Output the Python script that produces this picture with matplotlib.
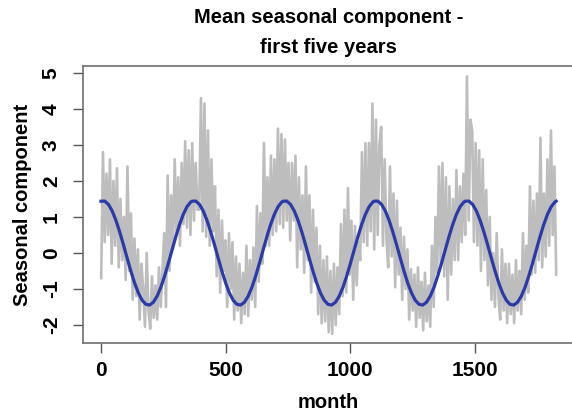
import numpy as np
import matplotlib.pyplot as plt

# ── data ─────────────────────────────────────────────────────
# observed seasonal component (grey), roughly one value per week
observed = [
    -0.7, 2.8, 0.3, 2.2,     0.5, 2.6, -0.3, 2.0,     0.2, 2.35, -0.4, 1.5,
    -0.2, 1.0, -0.75, 2.4,   -0.5, 1.1, -1.3, 0.4,    -1.2, 0.1, -1.85, -0.3,
    -1.0, -2.05, 0.0, -1.6,  -2.1, -0.65, -1.8, -0.9, -1.85, -0.4, -1.5, -0.5,
    0.55, -1.5, 2.15, -0.5,  1.6, 0.1, 2.6, 0.5,      2.1, 0.2, 2.5, 0.8,
    3.1, 0.7, 2.85, 0.5,     3.05, 0.9, 2.5, 1.2,     1.2, 4.3, 0.6, 4.15,
    0.45, 3.4, 0.2, 2.6,     0.6, 1.85, -0.65, 1.2,   -1.1, 0.9, -0.5, 0.35,
    -1.5, 0.55, -1.0, 0.3,   -1.85, -0.1, -1.6, -0.3, -1.95, -0.55, -1.7, 0.2,
    -1.75, -0.2, -1.3, 0.15, -1.5, 1.3, -0.8, 1.1,    -0.3, 3.05, 0.2, 2.1,
    0.2, 2.7, 0.5, 2.6,      0.6, 3.45, 0.8, 3.3,     0.7, 3.15, 0.9, 2.5,
    0.35, 2.5, 0.9, 2.7,     -0.4, 2.1, 0.1, 1.6,     -0.55, 2.4, -0.2, 1.6,
    -1.1, 1.2, -0.8, 0.7,    -1.7, 0.2, -1.95, -0.2,  -1.9, -0.1, -2.2, -0.5,
    -2.25, -0.3, -2.0, -0.4, -1.7, 0.8, -1.2, 1.2,    -1.1, 1.8, -0.6, 0.9,
    -1.3, 0.75, -0.9, 0.3,   -0.2, 2.8, 0.3, 3.05,    0.2, 3.05, 0.6, 4.15,
    0.1, 3.7, 0.5, 3.0,      3.5, 0.2, 2.6, 0.4,      -0.4, 2.4, -0.1, 1.65,
    -0.95, 1.45, -0.6, 0.7,  -1.3, 0.45, -1.0, 0.1,   -1.85, -0.45, -1.6, -0.6,
    -2.05, -0.4, -1.8, -0.8, -2.15, -0.55, -1.9, -0.9, -2.05, 0.2, -1.5, 1.0,
    -0.55, 2.4, -0.3, 2.5,   -0.65, 2.1, -1.3, 1.85,  -0.6, 1.5, -0.2, 2.3,
    -0.2, 1.85, 0.3, 2.2,    0.5, 4.9, 0.9, 3.7,      3.4, 0.3, 3.05, 0.2,
    2.85, -0.5, 2.6, -0.2,   1.75, -0.9, 1.0, -1.3,   0.0, -1.5, 0.55, -1.2,
    -1.85, 0.1, -1.6, -0.3,  -1.95, -0.3, -1.7, -0.6, -1.95, -0.2, -1.6, -0.5,
    -1.7, 0.55, -1.3, 0.2,   -1.1, 1.85, -0.6, 1.45,  -0.55, 1.65, -0.2, 3.2,
    -0.4, 1.65, -0.1, 2.6,   0.2, 3.4, 0.5, 2.4,
    -0.6,
]

# mean seasonal component over one year (blue), every 15 days
season_day = [0, 15, 30, 45, 60, 75, 90, 105, 120, 135, 150, 165, 180,
              195, 210, 225, 240, 255, 270, 285, 300, 315, 330, 345, 360]
season_val = [1.436, 1.44, 1.347, 1.166, 0.906, 0.587, 0.229, -0.144, -0.508,
              -0.838, -1.112, -1.313, -1.426, -1.446, -1.369, -1.202, -0.955,
              -0.645, -0.291, 0.081, 0.448, 0.786, 1.070, 1.285, 1.415]
n_years = 5
n_days = 1825

x_ticks = [0, 500, 1000, 1500]
y_ticks = [-2, -1, 0, 1, 2, 3, 4, 5]

# ── plot ─────────────────────────────────────────────────────
plt.rcParams['font.family'] = ['Liberation Sans', 'DejaVu Sans']
plt.rcParams['font.weight'] = 'bold'
plt.rcParams['axes.unicode_minus'] = False

fig = plt.figure(figsize=(5.72, 4.13), dpi=100)
ax = fig.add_axes([0.1451, 0.1695, 0.8591, 0.6707])

obs_days = np.linspace(1, n_days, len(observed))
ax.plot(obs_days, observed, color='#bdbdbd', lw=1.9, zorder=1)

blue_days = np.concatenate([np.array(season_day) + 365 * k for k in range(n_years)] + [[n_days]])
blue_vals = season_val * n_years + [season_val[0]]
ax.plot(blue_days, blue_vals, color='#2a3aa8', lw=2.3, zorder=2)

ax.set_xlim(-72, 1898)
ax.set_ylim(-2.5, 5.19)
ax.set_xticks(x_ticks)
ax.set_yticks(y_ticks)
ax.tick_params(direction='out', length=7, width=1.0, color='#555555',
               labelsize=15)
ax.tick_params(axis='x', pad=6)
ax.tick_params(axis='y', pad=9)
plt.setp(ax.get_yticklabels(), rotation=90, va='center')
for sp in ax.spines.values():
    sp.set_color('#6e6e6e')
    sp.set_linewidth(1.2)

ax.set_xlabel('month', fontsize=14.5, fontweight='bold')
ax.xaxis.set_label_coords(0.5, -0.235)
ax.xaxis.label.set_verticalalignment('baseline')
ax.set_ylabel('Seasonal component', fontsize=14.5, fontweight='bold')
ax.yaxis.set_label_coords(-0.124, 0.5)
ax.yaxis.label.set_verticalalignment('center')

cx = 0.1451 + 0.8591 / 2
fig.text(cx, 1 - 23 / 413, 'Mean seasonal component -', ha='center', va='baseline',
         fontsize=14.5, fontweight='bold')
fig.text(cx, 1 - 53 / 413, 'first five years', ha='center', va='baseline',
         fontsize=14.5, fontweight='bold')

fig.savefig('out.png', dpi=100)
